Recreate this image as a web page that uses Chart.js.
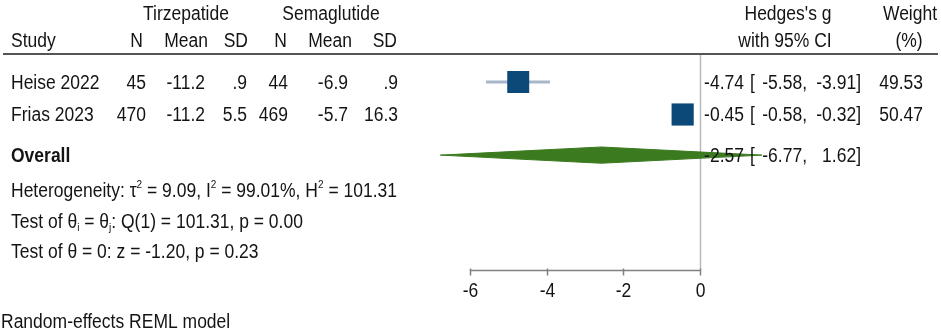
<!DOCTYPE html>
<html><head><meta charset="utf-8">
<script src="https://cdn.jsdelivr.net/npm/chart.js@4.4.1/dist/chart.umd.min.js"></script>
<style>html,body{margin:0;padding:0;background:#fff;overflow:hidden}#wrap{width:941px;height:334px;position:relative}</style>
</head><body><div id="wrap"><canvas id="c" width="941" height="334"></canvas></div>
<script>
// ---- data ----
const studies = ['Heise 2022', 'Frias 2023'];
const tirN = [45, 470];
const tirMean = [-11.2, -11.2];
const tirSD = [0.9, 5.5];
const semN = [44, 469];
const semMean = [-6.9, -5.7];
const semSD = [0.9, 16.3];
const hedgesG = [-4.74, -0.45];
const ciLow = [-5.58, -0.58];
const ciHigh = [-3.91, -0.32];
const weights = [49.53, 50.47];
const overallEst = [-2.57, -6.77, 1.62];   // g, lower, upper
const hetStats = [9.09, 99.01, 101.31];    // tau^2, I^2 (%), H^2
const testQ = [1, 101.31, 0.00];           // df, Q, p
const testZ = [-1.20, 0.23];               // z, p
const xTicks = [-6, -4, -2, 0];
const studyRows = [1, 2];
const overallRow = 3.25;

// ---- style ----
const FF = '"Liberation Sans", Arial, sans-serif';
const FS = 17.5;          // font size
const SY = 1.12;          // vertical stretch of glyphs
const TXT = '#141414';
const BOX = '#0c4878';
const CI = '#a5b7c9';
const DIA = '#3b7a1f';
const DIAMOND_HALF = 0.25;

function fmt1(v){ let s = v.toFixed(1); if (Math.abs(v) < 1) s = s.replace('0.', '.'); return s; }

const datasets = [];
datasets.push({
  label: 'boxes', order: 1,
  data: studies.map((s, i) => ({x: hedgesG[i], y: studyRows[i]})),
  pointStyle: 'rect',
  pointRadius: weights.map(w => 15.6 * Math.sqrt(w / 50)),
  backgroundColor: BOX, borderColor: BOX, borderWidth: 0, showLine: false
});
studies.forEach((s, i) => {
  datasets.push({
    label: 'ci' + i, order: 2, showLine: true,
    data: [{x: ciLow[i], y: studyRows[i]}, {x: ciHigh[i], y: studyRows[i]}],
    borderColor: CI, borderWidth: 3, pointRadius: 0
  });
});
datasets.push({
  type: 'line', label: 'diaTop', order: 3,
  data: [{x: overallEst[1], y: overallRow}, {x: overallEst[0], y: overallRow - DIAMOND_HALF}, {x: overallEst[2], y: overallRow}],
  borderColor: DIA, borderWidth: 1, pointRadius: 0, fill: false, tension: 0
});
datasets.push({
  type: 'line', label: 'diaBottom', order: 3,
  data: [{x: overallEst[1], y: overallRow}, {x: overallEst[0], y: overallRow + DIAMOND_HALF}, {x: overallEst[2], y: overallRow}],
  borderColor: DIA, borderWidth: 1, pointRadius: 0, fill: '-1', backgroundColor: DIA, tension: 0
});

function txt(ctx, t, x, y, al, font) {
  ctx.save();
  ctx.font = font || (FS + 'px ' + FF);
  ctx.textAlign = al || 'left';
  ctx.textBaseline = 'alphabetic';
  ctx.translate(x, y);
  ctx.scale(1, SY);
  ctx.fillText(t, 0, 0);
  const w = ctx.measureText(t).width;
  ctx.restore();
  return w;
}

function drawRich(ctx, x, y, segs) {
  let cx = x;
  for (const [t, m] of segs) {
    if (m === 'sup') cx += txt(ctx, t, cx, y - 9, 'left', '10px ' + FF);
    else if (m === 'sub') cx += txt(ctx, t, cx, y + 3, 'left', '10px ' + FF);
    else cx += txt(ctx, t, cx, y, 'left');
  }
}

const overlay = {
  id: 'overlay',
  beforeDatasetsDraw(chart) {
    const ctx = chart.ctx, xs = chart.scales.x;
    ctx.save();
    // header rule
    ctx.strokeStyle = '#555'; ctx.lineWidth = 2;
    ctx.beginPath(); ctx.moveTo(3, 54); ctx.lineTo(938, 54); ctx.stroke();
    // null line
    const x0 = Math.round(xs.getPixelForValue(0)) + 0.5;
    ctx.strokeStyle = '#b8b8b8'; ctx.lineWidth = 1.5;
    ctx.beginPath(); ctx.moveTo(x0, 55); ctx.lineTo(x0, 270); ctx.stroke();
    // axis
    const axY = 270.5;
    ctx.strokeStyle = '#808080'; ctx.lineWidth = 1.5;
    ctx.beginPath();
    ctx.moveTo(xs.getPixelForValue(xTicks[0]), axY);
    ctx.lineTo(xs.getPixelForValue(xTicks[xTicks.length - 1]), axY);
    ctx.stroke();
    ctx.fillStyle = TXT;
    xTicks.forEach(t => {
      const px = Math.round(xs.getPixelForValue(t)) + 0.5;
      ctx.beginPath(); ctx.moveTo(px, axY - 2); ctx.lineTo(px, axY + 5); ctx.stroke();
      txt(ctx, String(t), px, 297, 'center');
    });
    ctx.restore();
  },
  afterDatasetsDraw(chart) {
    const ctx = chart.ctx, ys = chart.scales.y;
    ctx.save();
    ctx.fillStyle = TXT;
    const put = (t, x, y, al, font) => txt(ctx, t, x, y, al, font);
    // header
    put('Tirzepatide', 186, 20, 'center');
    put('Semaglutide', 331, 20, 'center');
    put("Hedges's g", 788, 20, 'center');
    put('Weight', 910, 20, 'center');
    put('Study', 11, 47, 'left');
    put('N', 143, 47, 'right'); put('Mean', 208, 47, 'right'); put('SD', 248, 47, 'right');
    put('N', 287, 47, 'right'); put('Mean', 352, 47, 'right'); put('SD', 397, 47, 'right');
    put('with 95% CI', 785, 47, 'center');
    put('(%)', 909, 47, 'center');
    // study rows
    studies.forEach((s, i) => {
      const y = ys.getPixelForValue(studyRows[i]) + 7;
      put(s, 11, y, 'left');
      put(String(tirN[i]), 146, y, 'right');
      put(fmt1(tirMean[i]), 205, y, 'right');
      put(fmt1(tirSD[i]), 247, y, 'right');
      put(String(semN[i]), 288, y, 'right');
      put(fmt1(semMean[i]), 348, y, 'right');
      put(fmt1(semSD[i]), 398, y, 'right');
      put(hedgesG[i].toFixed(2), 744, y, 'right');
      put('[', 750, y, 'left');
      put(ciLow[i].toFixed(2) + ',', 807, y, 'right');
      put(ciHigh[i].toFixed(2) + ']', 861, y, 'right');
      put(weights[i].toFixed(2), 923, y, 'right');
    });
    // overall
    const yo = ys.getPixelForValue(overallRow) + 7;
    put('Overall', 11, yo, 'left', 'bold ' + FS + 'px ' + FF);
    put(overallEst[0].toFixed(2), 744, yo, 'right');
    put('[', 750, yo, 'left');
    put(overallEst[1].toFixed(2) + ',', 807, yo, 'right');
    put(overallEst[2].toFixed(2) + ']', 861, yo, 'right');
    drawRich(ctx, 11, 197, [['Heterogeneity: \u03C4', 'n'], ['2', 'sup'], [' = ' + hetStats[0].toFixed(2) + ', I', 'n'], ['2', 'sup'],
      [' = ' + hetStats[1].toFixed(2) + '%, H', 'n'], ['2', 'sup'], [' = ' + hetStats[2].toFixed(2), 'n']]);
    drawRich(ctx, 11, 228, [['Test of \u03B8', 'n'], ['i', 'sub'], [' = \u03B8', 'n'], ['j', 'sub'],
      [': Q(' + testQ[0] + ') = ' + testQ[1].toFixed(2) + ', p = ' + testQ[2].toFixed(2), 'n']]);
    drawRich(ctx, 11, 258, [['Test of \u03B8 = 0: z = ' + testZ[0].toFixed(2) + ', p = ' + testZ[1].toFixed(2), 'n']]);
    put('Random-effects REML model', 1, 328, 'left');
    ctx.restore();
  }
};

new Chart(document.getElementById('c'), {
  type: 'scatter',
  data: { datasets },
  options: {
    responsive: false, animation: false, devicePixelRatio: 1,
    layout: { padding: 0, autoPadding: false },
    scales: {
      x: { type: 'linear', min: -18.26, max: 6.29, display: false },
      y: { type: 'linear', min: -1.523, max: 8.754, reverse: true, display: false }
    },
    plugins: { legend: { display: false }, tooltip: { enabled: false } },
    events: []
  },
  plugins: [overlay]
});
</script>
</body></html>
